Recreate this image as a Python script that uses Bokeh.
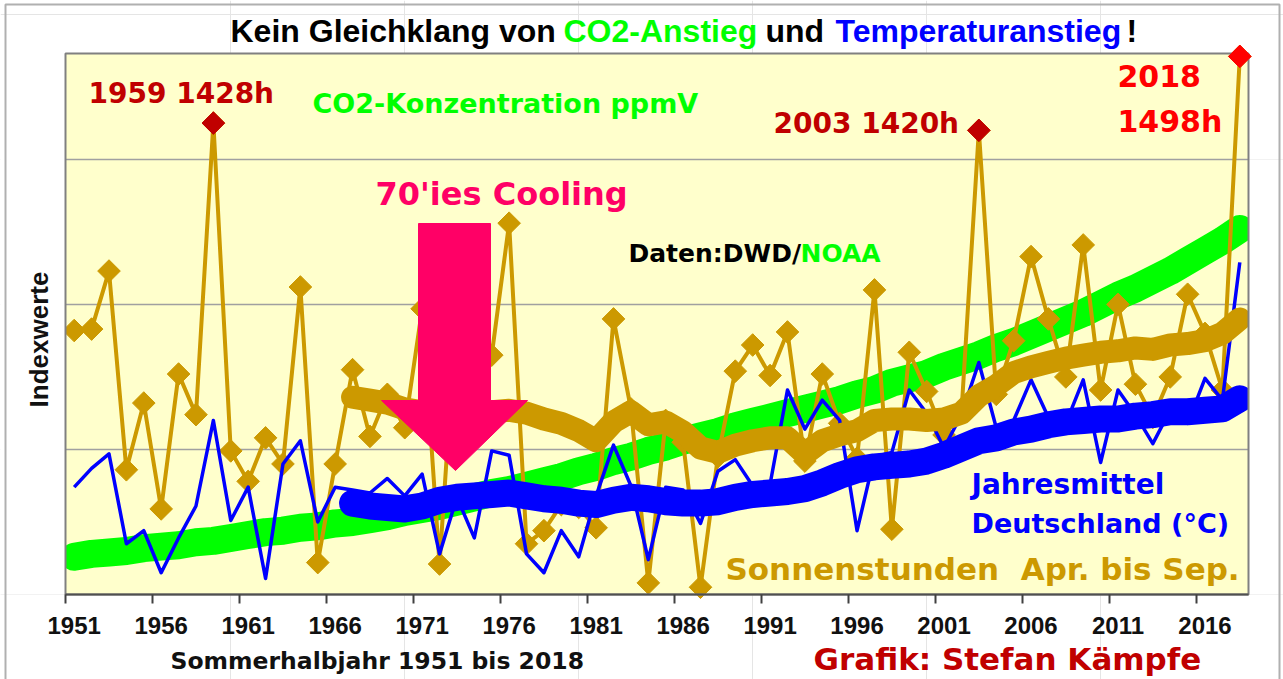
import math
from bokeh.plotting import figure
from bokeh.models import FixedTicker, Label, Range1d, LinearAxis
from bokeh.embed import file_html
from bokeh.resources import INLINE

# ---------------- data (index values) ----------------
years = list(range(1951, 2019))
sunshine = [182, 183, 223, 86, 132, 59, 152, 124, 325, 99,
            78, 108, 90, 212, 22, 90, 155, 109, 138, 115,
            197, 21, 200, 115, 165, 256, 35, 44, 62, 60,
            46, 190, 128, 8, 120, 105, 5, 95, 154, 172,
            151, 181, 92, 152, 118, 94, 210, 45, 167, 140,
            110, 125, 320, 138, 175, 233, 190, 150, 241, 141,
            200, 145, 122, 150, 207, 180, 141, 371]
temperature = [74, 87, 97, 35, 44, 15, 39, 61, 120, 51,
               74, 11, 90, 106, 50, 74, 72, 70, 80, 68,
               83, 28, 67, 39, 99, 96, 28, 15, 44, 26,
               68, 103, 75, 24, 74, 72, 49, 85, 93, 75,
               76, 141, 114, 134, 120, 44, 95, 98, 141, 125,
               101, 124, 160, 115, 120, 148, 122, 118, 148, 91,
               141, 124, 104, 127, 118, 149, 134, 229]
co2 = [26, 28, 29, 30, 32, 33, 34, 36, 37, 39,
       41, 43, 44, 46, 47, 49, 50, 52, 54, 57,
       59, 61, 64, 67, 70, 72, 75, 78, 81, 85,
       88, 92, 95, 99, 102, 106, 109, 112, 116, 119,
       122, 125, 128, 131, 134, 138, 141, 146, 149, 152,
       157, 161, 165, 170, 174, 179, 184, 189, 194, 200,
       206, 211, 217, 223, 230, 237, 244, 252]
trend_years = list(range(1967, 2019))
sunshine_trend = [136, 134, 132, 128, 126, 124, 124, 125, 126, 127,
                  125, 121, 118, 113, 106, 119, 126, 117, 119, 112,
                  101, 98, 103, 106, 108, 108, 97, 106, 110, 113,
                  120, 121, 121, 120, 121, 125, 137, 144, 153, 157,
                  160, 163, 165, 167, 168, 170, 169, 172, 173, 175,
                  180, 190]
temperature_trend = [63, 61, 60, 59, 61, 65, 67, 68, 69, 70,
                     68, 66, 65, 63, 62, 65, 67, 66, 64, 63,
                     63, 64, 67, 69, 70, 71, 73, 77, 82, 86,
                     88, 89, 90, 92, 96, 101, 106, 108, 112, 114,
                     117, 119, 120, 121, 121, 123, 124, 126, 126, 127,
                     128, 135]
record_years = [1959, 2003, 2018]
record_colors = ["#C00000", "#C00000", "#FF0000"]
tick_years = list(range(1951, 2017, 5))
grid_values = [100, 200, 300]
y_top = 373

GOLD = "#CC9900"
GREEN = "#00FF00"
BLUE = "#0000FF"

# layout: the frame spans the whole canvas, the chart area is drawn inside it
W, H = 1283, 679
FL, FT, FW, FH = 65, 53, 1183, 541          # chart area in canvas pixels
x_lo, x_hi = years[0] - 0.5, years[-1] + 0.5
XPX = FW / (x_hi - x_lo)
YPX = FH / y_top

def px(x):
    return x_lo + (x - FL) / XPX

def py(y):
    return (FT + FH - y) / YPX

p = figure(width=W, height=H, output_backend="svg", toolbar_location=None,
           x_range=Range1d(px(0), px(W)), y_range=Range1d(py(H), py(0)),
           x_axis_location=None, y_axis_location=None, min_border=0)
p.background_fill_color = "white"
p.border_fill_color = "white"
p.outline_line_color = None

# chart area and grid
p.quad(left=x_lo, right=x_hi, bottom=0, top=y_top, fill_color="#FFFFCC", line_color=None)
p.segment(x0=[x_lo] * 3, x1=[x_hi] * 3, y0=grid_values, y1=grid_values,
          line_color="#A0A0A0", line_width=1.5)

# series
p.line(years, co2, line_width=28, color=GREEN, line_cap="round", line_join="round")
p.line(years, sunshine, line_width=4, color=GOLD, line_join="round")
p.scatter(years, sunshine, marker="square", angle=math.pi / 4, size=16, color=GOLD)
p.line(years, temperature, line_width=3.5, color=BLUE, line_join="round")
p.line(trend_years, temperature_trend, line_width=27, color=BLUE, line_cap="round", line_join="round")
p.line(trend_years, sunshine_trend, line_width=23, color=GOLD, line_cap="round", line_join="round")

# trim the thick lines at the chart-area edges
p.quad(left=[px(0), x_hi], right=[x_lo, px(W)], bottom=[0, 0], top=[y_top, 300],
       fill_color="white", line_color=None)
p.quad(left=x_lo, right=x_hi, bottom=0, top=y_top, fill_color=None,
       line_color="#808080", line_width=2)
# outer picture border
p.quad(left=px(5), right=px(1279), bottom=py(H + 20), top=py(4),
       fill_color=None, line_color="#B0B0B0", line_width=2)

rec_vals = [sunshine[years.index(y)] for y in record_years]
p.scatter(record_years, rec_vals, marker="square", angle=math.pi / 4, size=16, color=record_colors)

# x axis drawn at the bottom of the chart area
xaxis = LinearAxis(fixed_location=0, bounds=(x_lo, x_hi),
                   ticker=FixedTicker(ticks=tick_years, minor_ticks=[t - 0.5 for t in tick_years]))
xaxis.major_tick_in = 0
xaxis.major_tick_out = 0
xaxis.minor_tick_in = 0
xaxis.minor_tick_out = 9
xaxis.minor_tick_line_color = "#404040"
xaxis.minor_tick_line_width = 2
xaxis.axis_line_color = "#505050"
xaxis.axis_line_width = 2
xaxis.major_label_text_font = "Liberation Sans"
xaxis.major_label_text_font_style = "bold"
xaxis.major_label_text_font_size = "24px"
xaxis.major_label_text_color = "#111111"
xaxis.major_label_standoff = 13
p.add_layout(xaxis, "below")

# 70'ies cooling arrow
ax = [px(418), px(490), px(490), px(527), px(455), px(381), px(418)]
ay = [py(223), py(223), py(400), py(400), py(470), py(400), py(400)]
p.patch(ax, ay, color="#FF0066")

def lab(text, x, y, color, size, font="DejaVu Sans", angle=0, align="left"):
    # x: left edge, y: vertical centre of the capitals (picture pixels)
    p.add_layout(Label(x=px(x), y=py(y), text=text, text_color=color,
                       text_font=font, text_font_style="bold", text_font_size=f"{size}px",
                       angle=angle, text_align=align, text_baseline="middle"))

# title
TF = "Liberation Sans"
lab("Kein Gleichklang von", 230, 30, "black", 32, TF)
lab("CO2-Anstieg", 563, 30, GREEN, 32, TF)
lab("und", 765, 30, "black", 32, TF)
lab("Temperaturanstieg", 835, 30, BLUE, 32, TF)
lab("!", 1126, 30, "black", 32, TF)

lab("1959 1428h", 88, 92.5, "#C00000", 28)
lab("CO2-Konzentration ppmV", 312, 102.5, GREEN, 27)
lab("2003 1420h", 773, 123, "#C00000", 28)
lab("2018", 1117, 75, "#FF0000", 30)
lab("1498h", 1117, 121, "#FF0000", 30)
lab("70'ies Cooling", 375, 193, "#FF0066", 32)
lab("Daten:DWD/", 628, 252.5, "black", 25)
lab("NOAA", 800, 252.5, GREEN, 25)
lab("Jahresmittel", 971, 484, BLUE, 28)
lab("Deutschland (°C)", 971, 522.5, BLUE, 27)
lab("Sonnenstunden\u00a0\u00a0Apr. bis Sep.", 725, 568.5, GOLD, 31)
lab("Sommerhalbjahr 1951 bis 2018", 170, 660, "#111111", 23.5)
lab("Grafik: Stefan Kämpfe", 813, 658, "#C00000", 31)
lab("Indexwerte", 38, 339, "#111111", 26, "Liberation Sans", angle=math.pi / 2, align="center")

open("out.html", "w").write(file_html(p, INLINE))
